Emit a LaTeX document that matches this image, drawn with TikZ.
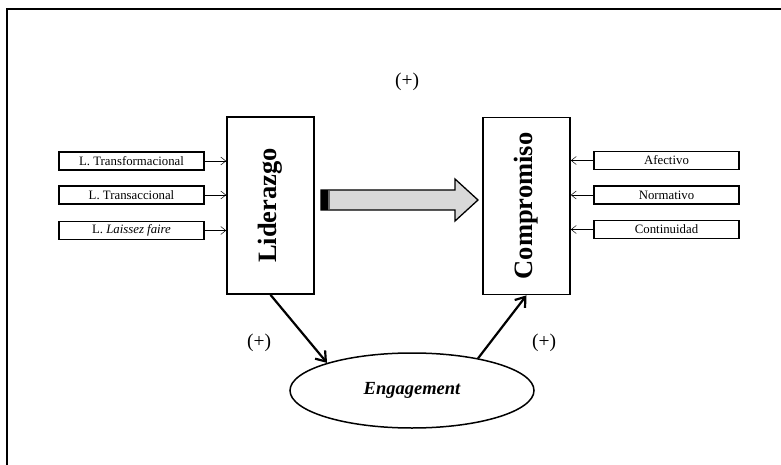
\documentclass[tikz,border=0pt]{standalone}
\usepackage{fontspec}
\setmainfont{Liberation Serif}
\usetikzlibrary{shapes.geometric,arrows.meta,calc}

\begin{document}
\begin{tikzpicture}[x=1pt,y=-1pt,
  factor/.style={draw,line width=1.5pt,minimum width=145pt,minimum height=18pt,
    inner sep=0pt,font=\fontsize{12.8}{14}\selectfont},
  construct/.style={draw,line width=1.7pt,minimum width=87pt,minimum height=177pt,
    inner sep=0pt,font=\fontsize{26.5}{30}\selectfont\bfseries},
  feed/.style={-{Straight Barb[length=5pt,width=8pt]},line width=0.5pt},
  effect/.style={-{Straight Barb[length=9pt,width=13pt]},line width=2.2pt},
  sign/.style={font=\fontsize{19.5}{22}\selectfont,inner sep=0pt}]

\clip (0,0) rectangle (781,465);
\fill[white] (0,0) rectangle (781,465);

% outer frame, open to the right and bottom
\draw[line width=1.8pt] (7,9) rectangle (800,485);

% main constructs
\node[construct] (lid)  at (270.5,205.5) {\rotatebox{90}{Liderazgo}};
\node[construct] (comp) at (526.5,206)   {\rotatebox{90}{Compromiso}};

% leadership styles
\node[factor] (ltf) at (131.5,161)   {L. Transformacional};
\node[factor] (ltc) at (131.5,195)   {L. Transaccional};
\node[factor] (llf) at (131.5,230.5) {L. \textit{Laissez faire}};

% commitment components
\node[factor] (afe) at (666.5,160.5) {Afectivo};
\node[factor] (nor) at (666.5,195)   {Normativo};
\node[factor] (con) at (666.5,229.5) {Continuidad};

\foreach \s in {ltf,ltc,llf}
  \draw[feed] (\s.east) -- (\s.east -| lid.west);
\foreach \s in {afe,nor,con}
  \draw[feed] (\s.west) -- (\s.west -| comp.east);

% mediator
\node[ellipse,draw,line width=1.5pt,minimum width=244pt,minimum height=75pt,
  inner sep=0pt,font=\fontsize{18.5}{22}\selectfont\bfseries\itshape]
  (eng) at (412,390.5) {Engagement};

\draw[effect] (lid.south) -- (eng.162);
\draw[effect] (eng.26.6) -- (comp.south);

% direct effect block arrow
\draw[line width=1.3pt,fill={rgb,255:red,217;green,217;blue,217}]
  (321,190) -- (455,190) -- (455,179) -- (478,200) -- (455,221)
  -- (455,210) -- (321,210) -- cycle;
\fill[black] (321,190) rectangle (328,210);
\fill[black!60] (328,190.6) rectangle (330,209.4);

% signs
\node[sign] (s1) at (407,82)  {(+)};
\node[sign] (s2) at (259,343) {(+)};
\node[sign] (s3) at (544,343) {(+)};
\end{tikzpicture}
\end{document}
